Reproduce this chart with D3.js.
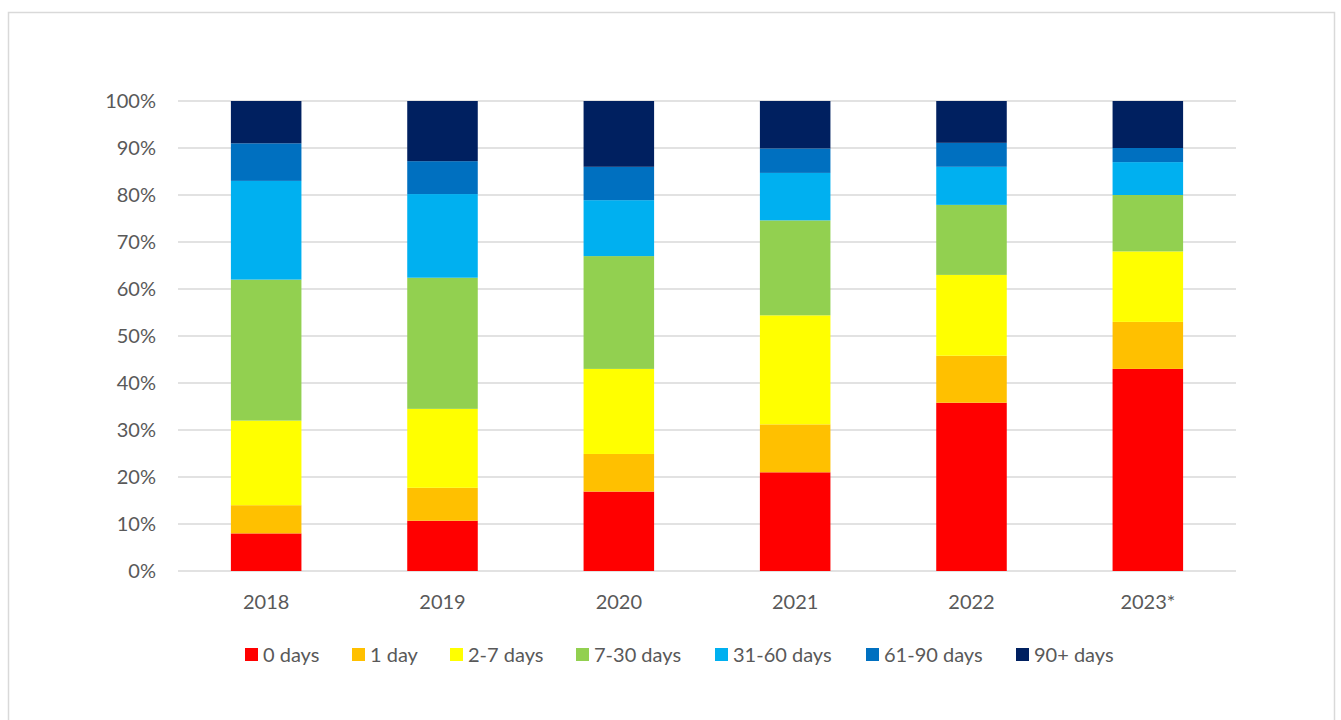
<!DOCTYPE html>
<html>
<head>
<meta charset="utf-8">
<script src="https://cdn.jsdelivr.net/npm/d3@7"></script>
<style>
  body { margin: 0; background: #fff; }
  svg text { font-family: Lato, "Open Sans", sans-serif; fill: #595959; }
</style>
</head>
<body>
<div id="chart"></div>
<script>
// years on the x axis
const years = ["2018", "2019", "2020", "2021", "2022", "2023*"];
const buckets = ["0 days", "1 day", "2-7 days", "7-30 days", "31-60 days", "61-90 days", "90+ days"];
const colors = ["#FF0000", "#FFC000", "#FFFF00", "#92D050", "#00B0F0", "#0070C0", "#002060"];

// share of each bucket per year (percent)
const zeroDays   = [8, 10.7, 16.9, 21.0, 35.8, 43];
const oneDay     = [6, 7.0, 8.0, 10.2, 10.0, 10];
const twoToSeven = [18, 16.8, 18.1, 23.2, 17.2, 15];
const sevenTo30  = [30, 27.9, 24.0, 20.2, 14.9, 12];
const d31to60    = [21, 17.8, 11.9, 10.1, 8.1, 7];
const d61to90    = [8, 7.0, 7.1, 5.2, 5.1, 3];
const over90     = [9, 12.8, 14.0, 10.1, 8.9, 10];

const yTicks = [0, 10, 20, 30, 40, 50, 60, 70, 80, 90, 100];

const series = [zeroDays, oneDay, twoToSeven, sevenTo30, d31to60, d61to90, over90];
const rows = years.map((y, i) => {
  let r = { year: y };
  buckets.forEach((b, j) => { r[b] = series[j][i]; });
  return r;
});

const width = 1341, height = 720;
const margin = { left: 178, right: 105, top: 101, bottom: 149 };

const svg = d3.select("#chart").append("svg")
  .attr("width", width)
  .attr("height", height);

// outer frame
svg.append("rect")
  .attr("x", 8.5).attr("y", 12.5)
  .attr("width", 1326).attr("height", 720)
  .attr("fill", "none")
  .attr("stroke", "#d9d9d9")
  .attr("stroke-width", 1.5);

const x = d3.scaleBand()
  .domain(years)
  .range([margin.left, width - margin.right])
  .paddingInner(0.6)
  .paddingOuter(0.3);

const y = d3.scaleLinear()
  .domain([0, 100])
  .range([height - margin.bottom, margin.top]);

// gridlines
svg.append("g")
  .selectAll("line")
  .data(yTicks)
  .join("line")
  .attr("x1", margin.left)
  .attr("x2", width - margin.right)
  .attr("y1", d => y(d))
  .attr("y2", d => y(d))
  .attr("stroke", "#d9d9d9")
  .attr("stroke-width", 1.3);

// y labels
const yAxis = svg.append("g")
  .attr("transform", `translate(${margin.left - 22},0)`)
  .call(d3.axisLeft(y).tickValues(yTicks).tickFormat(d => d + "%").tickSize(0).tickPadding(0));
yAxis.select(".domain").remove();
yAxis.selectAll("text")
  .attr("font-size", 20)
  .attr("font-family", "Lato, sans-serif")
  .attr("fill", "#595959");

const stacked = d3.stack().keys(buckets)(rows);

svg.append("g")
  .selectAll("g")
  .data(stacked)
  .join("g")
  .attr("fill", (d, i) => colors[i])
  .selectAll("rect")
  .data(d => d)
  .join("rect")
  .attr("x", d => x(d.data.year))
  .attr("width", x.bandwidth())
  .attr("y", d => y(d[1]))
  .attr("height", d => y(d[0]) - y(d[1]));

// x labels
const xAxis = svg.append("g")
  .attr("transform", `translate(0,${height - margin.bottom + 24})`)
  .call(d3.axisBottom(x).tickSize(0).tickPadding(0));
xAxis.select(".domain").remove();
xAxis.selectAll("text")
  .attr("font-size", 20)
  .attr("font-family", "Lato, sans-serif")
  .attr("fill", "#595959");

// legend
const legendX = [245, 352, 450, 576, 715, 866, 1016];
const legend = svg.append("g")
  .selectAll("g")
  .data(buckets)
  .join("g")
  .attr("transform", (d, i) => `translate(${legendX[i]},655)`);

legend.append("rect")
  .attr("x", 0).attr("y", -7)
  .attr("width", 13).attr("height", 13)
  .attr("fill", (d, i) => colors[i]);

legend.append("text")
  .attr("x", 18)
  .attr("dy", "0.35em")
  .attr("font-size", 20)
  .text(d => d);
</script>
</body>
</html>
